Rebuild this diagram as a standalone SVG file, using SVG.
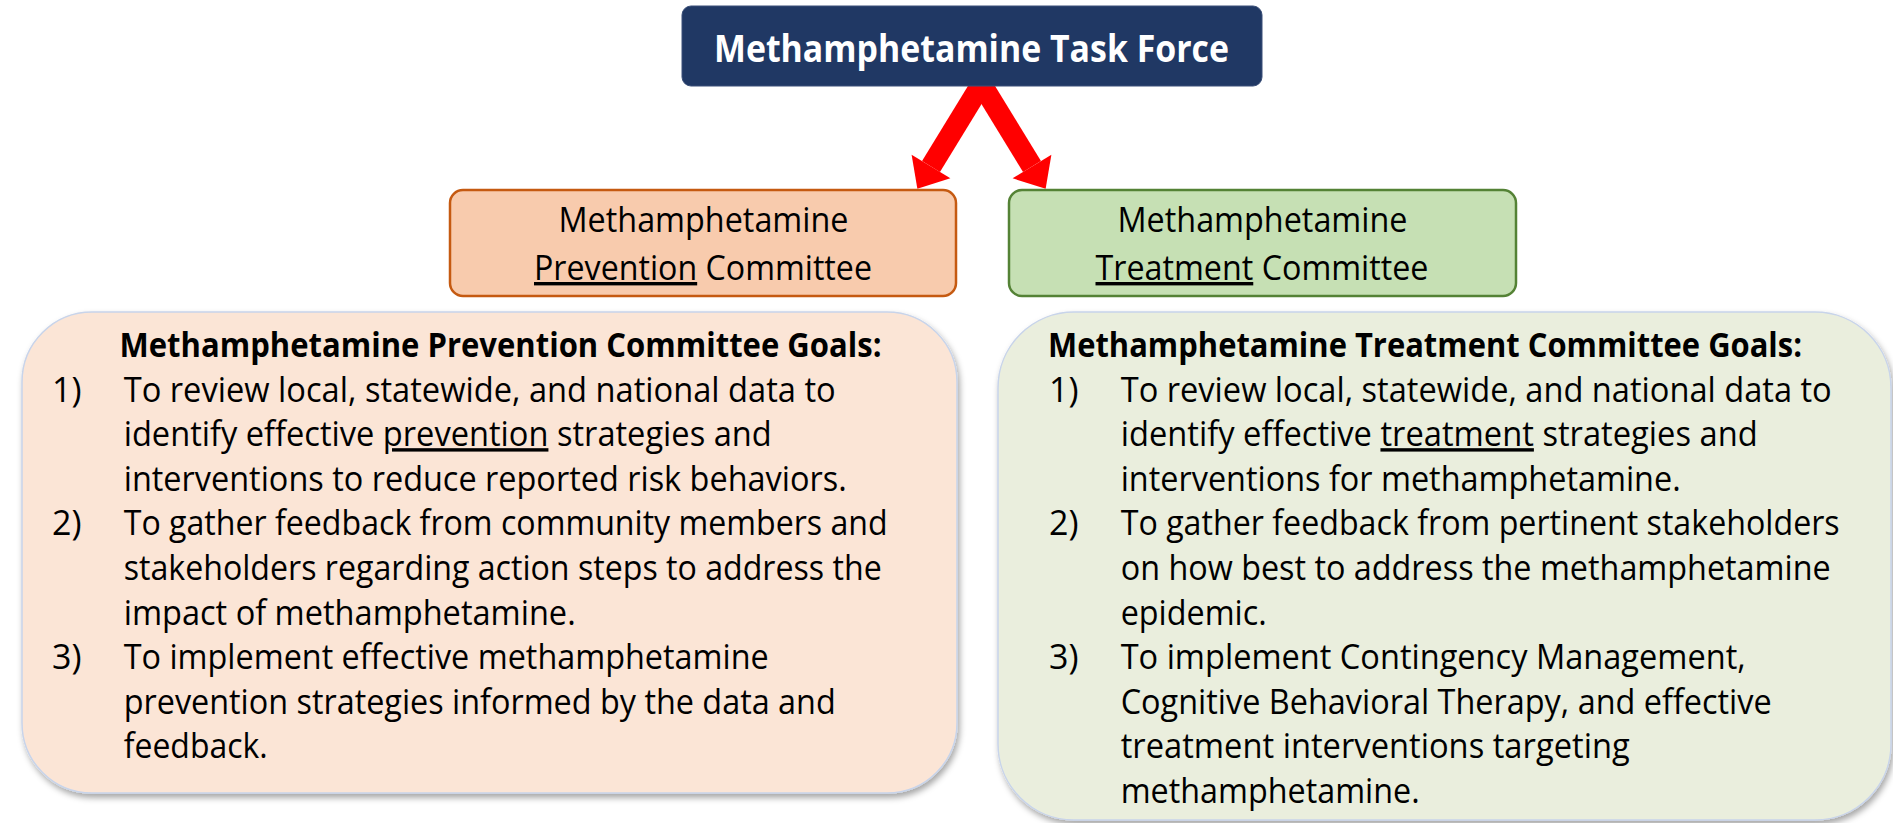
<svg xmlns="http://www.w3.org/2000/svg" width="1893" height="823" viewBox="0 0 1893 823">
  <style>
    .t { font-family: "Open Sans", "Liberation Sans", sans-serif; fill: #000; }
    .body { font-size: 34px; }
    .bold { font-weight: 700; }
    .u { text-decoration: underline; }
    .goal { stroke: #C8D4EA; stroke-width: 1.5; }
  </style>
  <defs>
    <filter id="shadow" x="-5%" y="-5%" width="112%" height="115%">
      <feDropShadow dx="2" dy="4" stdDeviation="3" flood-color="#000" flood-opacity="0.35"/>
    </filter>
    <marker id="head" markerUnits="userSpaceOnUse" markerWidth="50" markerHeight="50" viewBox="0 -22 26 44" refX="0" refY="0" orient="auto">
      <path d="M0,-20 L23,0 L0,20 Z" fill="#FF0000"/>
    </marker>
  </defs>

  <rect width="1893" height="823" fill="#FFFFFF"/>

  <!-- connectors: task force to the two committees -->
  <g id="connectors" stroke="#FF0000" stroke-width="21" fill="none">
    <line x1="981.5" y1="84" x2="931" y2="166.5" marker-end="url(#head)"/>
    <line x1="981.5" y1="84" x2="1032" y2="166.5" marker-end="url(#head)"/>
  </g>

  <!-- task force -->
  <g id="task-force">
    <rect x="682" y="6" width="580" height="80" rx="9" fill="#203864" stroke="#3A4F78" stroke-width="1"/>
    <text class="t bold" x="714" y="62" font-size="37" style="fill:#FFFFFF" textLength="515" lengthAdjust="spacingAndGlyphs">Methamphetamine Task Force</text>
  </g>

  <!-- prevention committee -->
  <g id="prevention-committee">
    <rect x="450" y="190" width="506" height="106" rx="13" fill="#F8CBAD" stroke="#C55A11" stroke-width="2.5"/>
    <text class="t body" x="558.5" y="232" textLength="290" lengthAdjust="spacingAndGlyphs">Methamphetamine</text>
    <text class="t body" x="534" y="280" textLength="338" lengthAdjust="spacingAndGlyphs"><tspan class="u">Prevention</tspan> Committee</text>
  </g>

  <!-- treatment committee -->
  <g id="treatment-committee">
    <rect x="1009" y="190" width="507" height="106" rx="13" fill="#C6E0B4" stroke="#548235" stroke-width="2.5"/>
    <text class="t body" x="1117.5" y="232" textLength="290" lengthAdjust="spacingAndGlyphs">Methamphetamine</text>
    <text class="t body" x="1095.5" y="280" textLength="333" lengthAdjust="spacingAndGlyphs"><tspan class="u">Treatment</tspan> Committee</text>
  </g>

  <!-- prevention goals -->
  <g id="prevention-goals">
    <rect class="goal" x="22" y="312" width="935" height="481" rx="70" fill="#FBE5D6" filter="url(#shadow)"/>
    <text class="t body bold" x="119.5" y="357" textLength="762" lengthAdjust="spacingAndGlyphs">Methamphetamine Prevention Committee Goals:</text>
    <text class="t body" x="52" y="401.6">1)</text>
    <text class="t body" x="123.7" y="401.6" textLength="712" lengthAdjust="spacingAndGlyphs">To review local, statewide, and national data to</text>
    <text class="t body" x="123.7" y="446.2" textLength="648" lengthAdjust="spacingAndGlyphs">identify effective <tspan class="u">prevention</tspan> strategies and</text>
    <text class="t body" x="123.7" y="490.8" textLength="723" lengthAdjust="spacingAndGlyphs">interventions to reduce reported risk behaviors.</text>
    <text class="t body" x="52" y="535.4">2)</text>
    <text class="t body" x="123.7" y="535.4" textLength="764" lengthAdjust="spacingAndGlyphs">To gather feedback from community members and</text>
    <text class="t body" x="123.7" y="580" textLength="758" lengthAdjust="spacingAndGlyphs">stakeholders regarding action steps to address the</text>
    <text class="t body" x="123.7" y="624.6" textLength="452" lengthAdjust="spacingAndGlyphs">impact of methamphetamine.</text>
    <text class="t body" x="52" y="669.2">3)</text>
    <text class="t body" x="123.7" y="669.2" textLength="645" lengthAdjust="spacingAndGlyphs">To implement effective methamphetamine</text>
    <text class="t body" x="123.7" y="713.8" textLength="712" lengthAdjust="spacingAndGlyphs">prevention strategies informed by the data and</text>
    <text class="t body" x="123.7" y="758.4" textLength="144" lengthAdjust="spacingAndGlyphs">feedback.</text>
  </g>

  <!-- treatment goals -->
  <g id="treatment-goals">
    <rect class="goal" x="998" y="312" width="893" height="508" rx="76" fill="#EAEEDD" filter="url(#shadow)"/>
    <text class="t body bold" x="1048" y="357" textLength="754" lengthAdjust="spacingAndGlyphs">Methamphetamine Treatment Committee Goals:</text>
    <text class="t body" x="1049" y="401.6">1)</text>
    <text class="t body" x="1120.7" y="401.6" textLength="711" lengthAdjust="spacingAndGlyphs">To review local, statewide, and national data to</text>
    <text class="t body" x="1120.7" y="446.2" textLength="637" lengthAdjust="spacingAndGlyphs">identify effective <tspan class="u">treatment</tspan> strategies and</text>
    <text class="t body" x="1120.7" y="490.8" textLength="560" lengthAdjust="spacingAndGlyphs">interventions for methamphetamine.</text>
    <text class="t body" x="1049" y="535.4">2)</text>
    <text class="t body" x="1120.7" y="535.4" textLength="719" lengthAdjust="spacingAndGlyphs">To gather feedback from pertinent stakeholders</text>
    <text class="t body" x="1120.7" y="580" textLength="710" lengthAdjust="spacingAndGlyphs">on how best to address the methamphetamine</text>
    <text class="t body" x="1120.7" y="624.6" textLength="146" lengthAdjust="spacingAndGlyphs">epidemic.</text>
    <text class="t body" x="1049" y="669.2">3)</text>
    <text class="t body" x="1120.7" y="669.2" textLength="625" lengthAdjust="spacingAndGlyphs">To implement Contingency Management,</text>
    <text class="t body" x="1120.7" y="713.8" textLength="651" lengthAdjust="spacingAndGlyphs">Cognitive Behavioral Therapy, and effective</text>
    <text class="t body" x="1120.7" y="758.4" textLength="509" lengthAdjust="spacingAndGlyphs">treatment interventions targeting</text>
    <text class="t body" x="1120.7" y="803" textLength="299" lengthAdjust="spacingAndGlyphs">methamphetamine.</text>
  </g>
</svg>
